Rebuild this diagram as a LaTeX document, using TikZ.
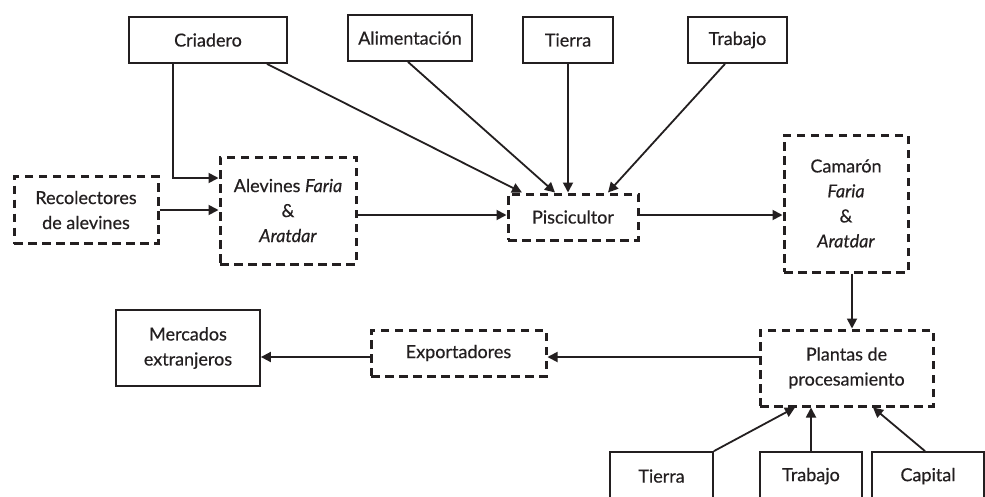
\documentclass[tikz,border=0pt]{standalone}
\usepackage{fontspec}
\setmainfont{Lato}[RawFeature={embolden=0.4}]
\usetikzlibrary{arrows.meta,calc}
\definecolor{ink}{HTML}{231F20}
\tikzset{
  txt/.style={text=ink,font=\fontsize{18}{25}\selectfont},
  solidbox/.style={txt,draw=ink,line width=1.8pt,inner sep=0pt,align=center},
  dashbox/.style={txt,draw=ink,line width=3pt,dash pattern=on 8.5pt off 5.5pt,inner sep=0pt,align=center},
  arr/.style={draw=ink,line width=1.8pt,-{Triangle[length=10pt,width=10pt]}}
}
\begin{document}
\begin{tikzpicture}[x=1pt,y=-1pt]
\clip (0,0) rectangle (985,496);
\useasboundingbox (0,0) rectangle (985,496);
\fill[white] (0,0) rectangle (985,496);
% top inputs
\node[solidbox,minimum width=158pt,minimum height=46pt] (cria) at (208,40) {Criadero};
\node[solidbox,minimum width=124pt,minimum height=46pt] (alim) at (410,38) {Alimentación};
\node[solidbox,minimum width=90pt,minimum height=46pt] (tierraA) at (568,40) {Tierra};
\node[solidbox,minimum width=99pt,minimum height=46pt] (trabA) at (737.5,40) {Trabajo};
% middle row
\node[dashbox,minimum width=144pt,minimum height=67pt] (recol) at (86,210) {Recolectores\\de alevines};
\node[dashbox,minimum width=136pt,minimum height=107pt] (alev) at (288,210.5) {Alevines \textit{Faria}\\\&\\\textit{Aratdar}};
\node[dashbox,minimum width=130pt,minimum height=46pt] (pisc) at (573,217) {Piscicultor};
\node[dashbox,minimum width=124pt,minimum height=137pt] (cam) at (846,203.5) {Camarón\\\textit{Faria}\\\&\\\textit{Aratdar}};
% lower row
\node[dashbox,minimum width=173pt,minimum height=76pt] (plant) at (846.5,368) {Plantas de\\procesamiento};
\node[dashbox,minimum width=175pt,minimum height=46pt] (export) at (458.5,353) {Exportadores};
\node[solidbox,minimum width=144pt,minimum height=76pt] (merc) at (188,348) {Mercados\\extranjeros};
% bottom inputs (cut by the page edge)
\node[solidbox,minimum width=103pt,minimum height=70pt] (tierraB) at (661.5,487) {};
\node[solidbox,minimum width=102pt,minimum height=70pt] (trabB) at (811,487) {};
\node[solidbox,minimum width=112pt,minimum height=70pt] (cap) at (928,487) {};
\node[txt] (tierraBt) at ($(tierraB.north)+(0,25)$) {Tierra};
\node[txt] (trabBt) at ($(trabB.north)+(0,25)$) {Trabajo};
\node[txt] (capt) at ($(cap.north)+(0,25)$) {Capital};
% helper coordinates
\coordinate (criaA) at ($(cria.south)+(-35,0)$);
\coordinate (alevIn) at ($(alev.west)+(0,-32.5)$);
\coordinate (piscIn) at ($(pisc.west)+(0,-2)$);
\coordinate (piscOut) at ($(pisc.east)+(0,-2)$);
\coordinate (camOut) at ($(cam.south)+(6,0)$);
\coordinate (plantOut) at ($(plant.west)+(0,-11)$);
% connectors
\draw[arr] (criaA) |- (alevIn);
\draw[arr] (recol.east) -- (recol.east -| alev.west);
\draw[arr] ($(cria.south)+(59,0)$) -- ($(pisc.north)+(-51,0)$);
\draw[arr] ($(alim.south)+(-2,0)$) -- ($(pisc.north)+(-18,0)$);
\draw[arr] (tierraA.south) -- (tierraA.south |- pisc.north);
\draw[arr] ($(trabA.south)+(-12.5,0)$) -- ($(pisc.north)+(35,0)$);
\draw[arr] (piscIn -| alev.east) -- (piscIn);
\draw[arr] (piscOut) -- (piscOut -| cam.west);
\draw[arr] (camOut) -- (camOut |- plant.north);
\draw[arr] (plantOut) -- (plantOut -| export.east);
\draw[arr] (plantOut -| export.west) -- (plantOut -| merc.east);
\draw[arr] (tierraB.north east) -- ($(plant.south)+(-51.5,0)$);
\draw[arr] (trabB.north) -- (trabB.north |- plant.south);
\draw[arr] ($(cap.north)+(-3,0)$) -- ($(plant.south)+(26.5,0)$);
\end{tikzpicture}
\end{document}
